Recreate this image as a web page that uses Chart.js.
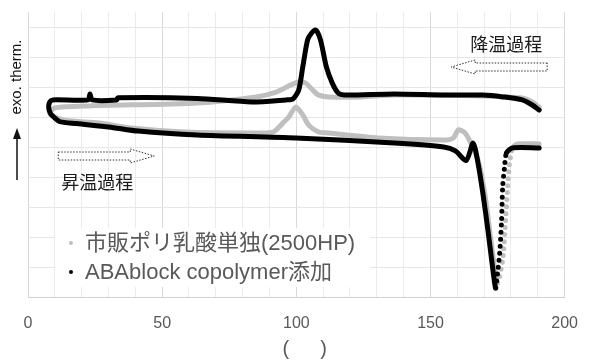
<!DOCTYPE html>
<html>
<head>
<meta charset="utf-8">
<script src="https://cdn.jsdelivr.net/npm/chart.js@4.4.1/dist/chart.umd.min.js"></script>
<style>
  html, body { margin: 0; padding: 0; background: #fff; }
  #wrap { width: 595px; height: 361px; position: relative; }
</style>
</head>
<body>
<div id="wrap"><canvas id="mycanvas"></canvas></div>
<script>
// series labels
var seriesNames = ["市販ポリ乳酸単独(2500HP)", "ABAblock copolymer添加"];

// 市販ポリ乳酸単独: cooling (190 -> 8) then heating (8 -> 190)
var plaTemp = [190.5, 187.9, 184.2, 169.5, 136.5, 124.4, 111.9, 108.3, 106.1, 103.5, 100.9, 98.0, 92.5, 85.1, 63.1, 22.8, 9.9, 8.1,
               9.9, 14.3, 26.4, 38.5, 58.3, 85.1, 91.4, 95.0, 97.2, 99.8, 102.4, 104.6, 108.3, 111.9, 130.3, 154.9, 158.5, 160.4, 162.9, 164.8,
               167.7, 170.3, 172.5, 174.0, 175.0, 176.9, 178.0, 178.7, 179.4, 180.6, 182.4, 190.5];
var plaSignal = [6.33, 6.5, 6.63, 6.7, 6.73, 6.67, 6.67, 6.73, 6.9, 7.13, 7.17, 7.07, 6.83, 6.67, 6.47, 6.37, 6.3, 6.13,
                 6.0, 5.88, 5.8, 5.63, 5.5, 5.47, 5.5, 5.8, 6.0, 6.33, 6.07, 5.73, 5.5, 5.47, 5.3, 5.23, 5.3, 5.57, 5.47, 5.17,
                 4.57, 3.4, 1.9, 0.9, 0.47, 1.23, 2.57, 3.57, 4.4, 4.97, 5.1, 5.1];

// ABAblock copolymer添加: cooling then heating
var abaTemp = [190.5, 187.9, 184.2, 176.9, 169.5, 154.9, 136.5, 118.2, 115.6, 113.4, 111.2, 109.0, 107.2, 105.7, 104.2, 102.4, 100.9, 98.7, 96.1, 83.3, 63.1, 33.5, 33.0, 23.9, 23.1, 22.4, 9.2, 8.1,
               7.7, 8.1, 8.8, 11.7, 18.0, 30.1, 41.1, 63.1, 99.8, 136.5, 154.9, 159.3, 163.3, 165.9,
               167.7, 169.5, 171.4, 172.8, 173.9, 174.3, 175.0, 175.8, 176.5, 176.9, 177.6, 178.3, 180.6, 190.5];
var abaSignal = [6.23, 6.4, 6.57, 6.67, 6.73, 6.73, 6.77, 6.73, 6.8, 7.13, 7.67, 8.57, 8.9, 8.8, 8.57, 7.67, 6.9, 6.6, 6.57, 6.5, 6.62, 6.64, 6.57, 6.57, 6.77, 6.57, 6.57, 6.5,
                 6.33, 6.17, 6.07, 5.85, 5.78, 5.67, 5.53, 5.4, 5.3, 5.13, 5.0, 4.87, 4.55, 5.13,
                 4.47, 3.47, 2.23, 1.23, 0.47, 0.3, 0.8, 1.47, 2.57, 3.67, 4.33, 4.8, 4.97, 4.97];

// axis ticks
var xMin = 0, xMax = 200, xStep = 10, xLabelEvery = 50;

// process labels  [text, temp, signal]
var coolLabel = ["降温過程", 178.2, 8.4];
var heatLabel = ["昇温過程", 25.8, 3.8];

function toPoints(xs, ys) {
	var pts = [];
	for (var i = 0; i < xs.length; i++) {
		pts.push({x: xs[i], y: ys[i]});
	}
	return pts;
}

// rising steep part of the melting dip is plotted as dots
function dotted(ctx) {
	var dy = ctx.p0.y - ctx.p1.y;
	var dx = ctx.p1.x - ctx.p0.x;
	if (dx >= 0 && dy > 8 && dy > 3 * Math.abs(dx)) return [0, 7];
	return undefined;
}

var FONT = "'Liberation Sans', 'Noto Sans CJK JP', sans-serif";

function blockArrow(c, x0, x1, y, dir) {
	// dotted outline arrow, x0 = tail, x1 = tip
	var bh = 4, hh = 7, hl = 24 * dir;
	var hb = x1 - hl;
	c.save();
	c.strokeStyle = "#333";
	c.lineWidth = 1;
	c.setLineDash([1.5, 1.5]);
	c.beginPath();
	c.moveTo(x0, y - bh);
	c.lineTo(hb, y - bh);
	c.lineTo(hb, y - hh);
	c.lineTo(x1, y);
	c.lineTo(hb, y + hh);
	c.lineTo(hb, y + bh);
	c.lineTo(x0, y + bh);
	c.closePath();
	c.stroke();
	c.restore();
}

var decorations = {
	id: "decorations",
	afterDraw: function(chart) {
		var c = chart.ctx;
		var a = chart.chartArea;
		var sx = chart.scales.x, sy = chart.scales.y;

		// legend box inside plot
		var lx = a.left + 27, ly = a.bottom - 69;
		c.save();
		c.fillStyle = "#fff";
		c.fillRect(lx, ly, 315, 59);
		c.font = "22px " + FONT;
		c.textBaseline = "middle";
		c.textAlign = "left";
		for (var i = 0; i < chart.data.datasets.length; i++) {
			var ds = chart.data.datasets[i];
			var cy = ly + 15 + i * 29;
			c.fillStyle = ds.borderColor;
			c.beginPath();
			c.arc(lx + 16, cy, 2, 0, Math.PI * 2);
			c.fill();
			c.fillStyle = "#595959";
			c.fillText(ds.label, lx + 30, cy + 1);
		}
		c.restore();

		// process labels and arrows
		c.save();
		c.font = "18px " + FONT;
		c.fillStyle = "#1a1a1a";
		c.textAlign = "center";
		c.textBaseline = "middle";
		var cx = sx.getPixelForValue(coolLabel[1]), cyy = sy.getPixelForValue(coolLabel[2]);
		c.fillText(coolLabel[0], cx, cyy + 1);
		var hx = sx.getPixelForValue(heatLabel[1]), hy = sy.getPixelForValue(heatLabel[2]);
		c.fillText(heatLabel[0], hx, hy + 1);
		c.restore();
		blockArrow(c, cx + 41, cx - 55, cyy + 22, -1);
		blockArrow(c, hx - 39, hx + 57, hy - 27, 1);

		// y axis title with arrow
		c.save();
		c.fillStyle = "#111";
		c.font = "15px " + FONT;
		c.translate(a.left - 11, 77);
		c.rotate(-Math.PI / 2);
		c.textAlign = "center";
		c.textBaseline = "middle";
		c.fillText("exo. therm.", 0, 0);
		c.restore();
		c.save();
		c.strokeStyle = "#111";
		c.fillStyle = "#111";
		c.lineWidth = 1.5;
		c.beginPath();
		c.moveTo(a.left - 11, 180);
		c.lineTo(a.left - 11, 136);
		c.stroke();
		c.beginPath();
		c.moveTo(a.left - 11, 128);
		c.lineTo(a.left - 15, 139);
		c.lineTo(a.left - 7, 139);
		c.closePath();
		c.fill();
		c.restore();
	}
};

var chartdata = {
	datasets: [
		{
			label: seriesNames[0],
			data: toPoints(plaTemp, plaSignal),
			borderColor: "#bfbfbf",
			backgroundColor: "#bfbfbf",
			borderWidth: 5,
			borderCapStyle: "round",
			borderJoinStyle: "round",
			pointRadius: 0,
			showLine: true,
			tension: 0.25,
			order: 1,
			segment: { borderDash: dotted }
		},
		{
			label: seriesNames[1],
			data: toPoints(abaTemp, abaSignal),
			borderColor: "#000000",
			backgroundColor: "#000000",
			borderWidth: 5,
			borderCapStyle: "round",
			borderJoinStyle: "round",
			pointRadius: 0,
			showLine: true,
			tension: 0.25,
			order: 0,
			segment: { borderDash: dotted }
		}
	]
};

var ctx = document.getElementById("mycanvas");

var LineGraph = new Chart(ctx, {
	type: "scatter",
	data: chartdata,
	plugins: [decorations],
	options: {
		responsive: true,
		maintainAspectRatio: false,
		animation: false,
		layout: { padding: { top: 12, right: 22, left: 0, bottom: 0 } },
		plugins: {
			legend: { display: false },
			tooltip: { enabled: false }
		},
		scales: {
			x: {
				type: "linear",
				min: xMin,
				max: xMax,
				afterFit: function(scale) { scale.height = 64; },
				border: { color: "#d0d0d0", width: 1 },
				grid: {
					drawTicks: false,
					color: function(c) { return c.tick && c.tick.value % xLabelEvery === 0 ? "#d9d9d9" : "#ebebeb"; }
				},
				ticks: {
					stepSize: xStep,
					autoSkip: false,
					maxRotation: 0,
					padding: 17,
					color: "#595959",
					font: { family: FONT, size: 16 },
					callback: function(v) { return v % xLabelEvery === 0 ? v : ""; }
				},
				title: {
					display: true,
					text: "   (　  )",
					color: "#595959",
					font: { family: FONT, size: 20 },
					padding: { top: 0, bottom: 0 }
				}
			},
			y: {
				min: 0,
				max: 9.5,
				afterFit: function(scale) { scale.width = 28; },
				border: { display: false },
				grid: { drawTicks: false, color: "#e6e6e6" },
				ticks: { stepSize: 1, includeBounds: false, display: false }
			}
		}
	}
});
</script>
</body>
</html>
